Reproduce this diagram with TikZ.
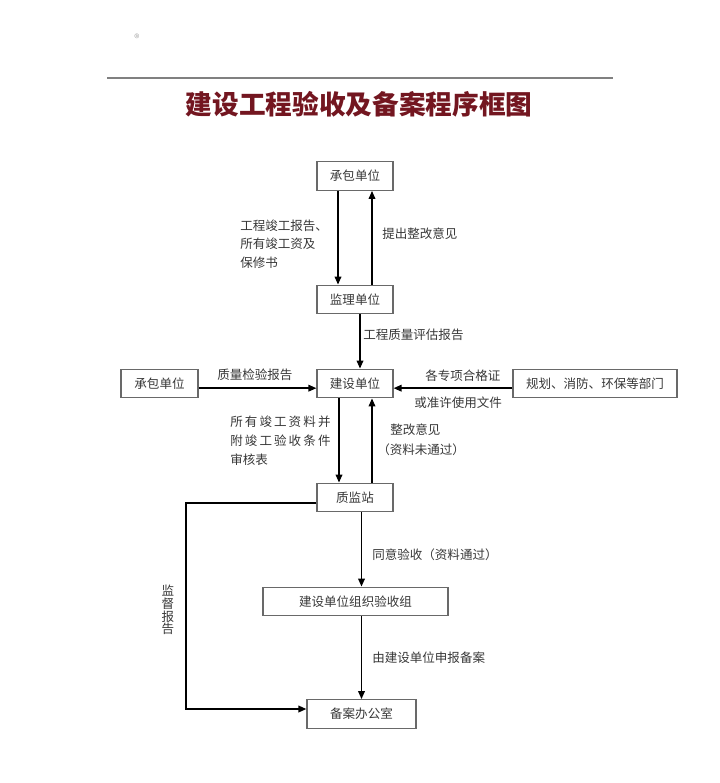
\documentclass[tikz,border=0pt]{standalone}
\usepackage{fontspec}
\setmainfont{Noto Sans CJK SC}
\usetikzlibrary{arrows.meta}
\definecolor{titlered}{RGB}{115,22,32}
\definecolor{boxgray}{RGB}{105,105,105}
\definecolor{txtgray}{RGB}{55,55,55}
\tikzset{every node/.style={font=\fontsize{9.4}{14}\selectfont,text=txtgray},
  unit/.style={draw=boxgray,line width=0.9pt,minimum width=57pt,
    minimum height=21.5pt,inner sep=0pt},
  flow/.style={line width=1.1pt,-{Triangle[length=6pt,width=5pt]}},
  note/.style={anchor=west,align=left,inner sep=0pt}}

\begin{document}
\begin{tikzpicture}[x=0.75pt,y=-0.75pt]
  \useasboundingbox (0,0) rectangle (720,783);
  % header
  \node[font=\fontsize{8}{8}\selectfont,text=gray!70] (mark) at (137,38) {®};
  \draw[gray,line width=1.1pt] (107,78) -- (613,78);
  \node[font=\fontsize{20}{22}\selectfont\bfseries,text=titlered] (title)
    at (359,104) {建设工程验收及备案程序框图};
  % boxes
  \node[unit] (cbtop) at (355,176) {承包单位};
  \node[unit] (jl) at (355,299.5) {监理单位};
  \node[unit] (js) at (355,383.5) {建设单位};
  \node[unit,minimum width=57.75pt] (cb) at (159.5,383.5) {承包单位};
  \node[unit,minimum width=123pt] (gh) at (595,383.5) {规划、消防、环保等部门};
  \node[unit] (zj) at (355,497.5) {质监站};
  \node[unit,minimum width=138.75pt] (zz) at (355.5,601.5) {建设单位组织验收组};
  \node[unit,minimum width=81.75pt] (ba) at (361.5,714) {备案办公室};
  % connectors
  \draw[flow] ([xshift=-12.75pt]cbtop.south) -- ([xshift=-12.75pt]jl.north);
  \draw[flow] ([xshift=12.75pt]jl.north) -- ([xshift=12.75pt]cbtop.south);
  \draw[flow] ([xshift=3.75pt]jl.south) -- ([xshift=3.75pt]js.north);
  \draw[flow] ([yshift=-3.5pt]cb.east) -- ([yshift=-3.5pt]js.west);
  \draw[flow] ([yshift=-3.5pt]gh.west) -- ([yshift=-3.5pt]js.east);
  \draw[flow] ([xshift=-12pt]js.south) -- ([xshift=-12pt]zj.north);
  \draw[flow] ([xshift=12.75pt]zj.north) -- ([xshift=12.75pt]js.south);
  \draw[flow] (zj.south -| ba) -- (zz.north -| ba);
  \draw[flow] (zz.south -| ba) -- (ba.north);
  \coordinate (jd) at (186,0);
  \coordinate (zjw) at ([yshift=-4pt]zj.west);
  \coordinate (baw) at ([yshift=3.75pt]ba.west);
  \draw[flow] (zjw) -- (zjw -| jd) |- (baw);
  % labels
  \node[note] (l1) at (240,244) {工程竣工报告、\\所有竣工资及\\保修书};
  \node[note] (l2) at (382,234) {提出整改意见};
  \node[note] (l3) at (363,335) {工程质量评估报告};
  \node[note] (l4) at (217,375) {质量检验报告};
  \node[note] (l5) at (425,376) {各专项合格证};
  \node[note] (l6) at (414,403) {或准许使用文件};
  \node[note,font=\fontsize{9.4}{14.25}\selectfont] (l7) at (230,441)
    {所\,有\,竣\,工\,资\,料\,并\\附\,竣\,工\,验\,收\,条\,件\\审核表};
  \node[note] (l8) at (390,430) {整改意见};
  \node[note] (l9) at (377,450) {（资料未通过）};
  \node[note] (l10) at (372,555) {同意验收（资料通过）};
  \node[note] (l11) at (372,658) {由建设单位申报备案};
  \node[note,anchor=center,align=center,font=\fontsize{9.4}{9.5}\selectfont]
    (l12) at (168,610) {监\\督\\报\\告};
\end{tikzpicture}
\end{document}
